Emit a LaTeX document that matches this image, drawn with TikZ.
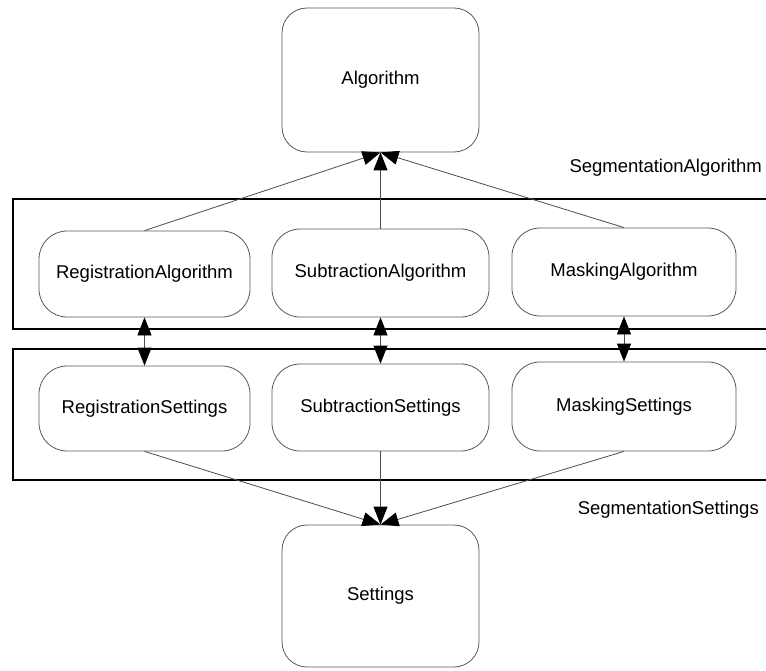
\documentclass[tikz,border=0pt]{standalone}
\usepackage{fontspec}
\setmainfont{Liberation Sans}
\usetikzlibrary{arrows.meta}
\begin{document}
\begin{tikzpicture}[x=1pt,y=-1pt,
  font=\fontsize{18.5}{21}\selectfont,
  cls/.style={draw=black!65, line width=0.8pt, rounded corners=28pt, fill=white, inner sep=0pt, align=center},
  big/.style={cls, rounded corners=25pt, minimum width=197pt, minimum height=144pt},
  container/.style={draw=black, line width=2pt},
  conn/.style={draw=black!70, line width=0.8pt, -{Triangle[length=18pt,width=14pt,color=black]}},
  dconn/.style={draw=black!70, line width=0.8pt, {Triangle[length=18pt,width=14pt,color=black]}-{Triangle[length=18pt,width=14pt,color=black]}},
  lbl/.style={anchor=east, inner sep=0pt}]
\useasboundingbox (0,0) rectangle (766,671);
\clip (0,0) rectangle (766,671);
% containers
\draw[container] (776,199) -- (13,199) -- (13,329) -- (776,329);
\draw[container] (776,349) -- (13,349) -- (13,480) -- (776,480);
% labels
\node[lbl] (segA) at (762,168) {SegmentationAlgorithm};
\node[lbl] (segS) at (759,510) {SegmentationSettings};
% nodes
\node[big] (alg) at (380.5,80) {Algorithm};
\node[big, minimum height=142pt] (set) at (380.5,596) {Settings};
\node[cls, minimum width=211pt, minimum height=86pt] (regA) at (144.5,274) {RegistrationAlgorithm};
\node[cls, minimum width=217pt, minimum height=88pt] (subA) at (380.5,273) {SubtractionAlgorithm};
\node[cls, minimum width=224pt, minimum height=88pt] (maskA) at (624,272) {MaskingAlgorithm};
\node[cls, minimum width=211pt, minimum height=85pt] (regS) at (144.5,408.5) {RegistrationSettings};
\node[cls, minimum width=217pt, minimum height=87pt] (subS) at (380.5,407.5) {SubtractionSettings};
\node[cls, minimum width=224pt, minimum height=89pt] (maskS) at (624,406.5) {MaskingSettings};
% connectors
\draw[conn] (regA.north) -- (alg.south);
\draw[conn] (subA.north) -- (alg.south);
\draw[conn] (maskA.north) -- (alg.south);
\draw[dconn] (regA.south) -- (regS.north);
\draw[dconn] (subA.south) -- (subS.north);
\draw[dconn] (maskA.south) -- (maskS.north);
\draw[conn] (regS.south) -- (set.north);
\draw[conn] (subS.south) -- (set.north);
\draw[conn] (maskS.south) -- (set.north);
\end{tikzpicture}
\end{document}
